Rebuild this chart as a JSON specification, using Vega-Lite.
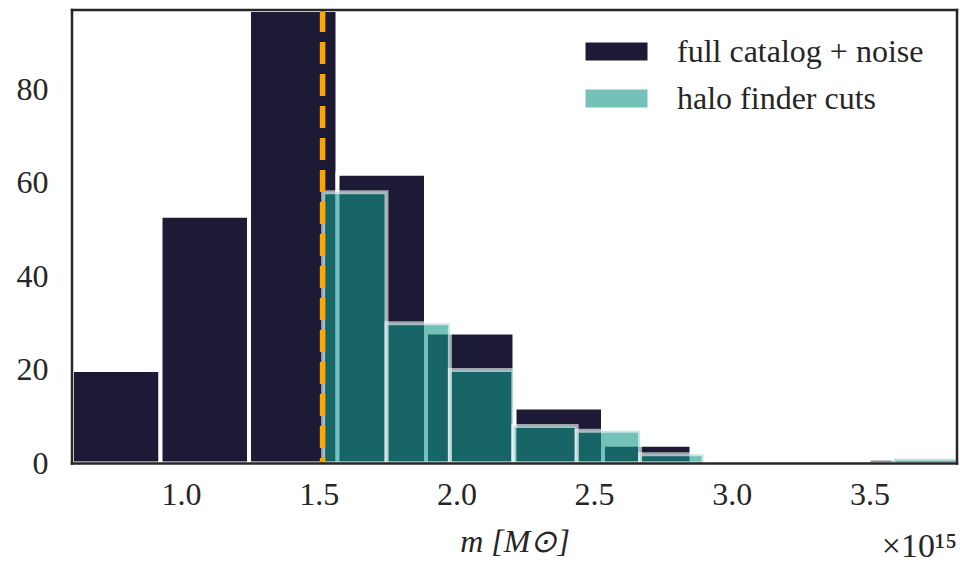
{
  "$schema": "https://vega.github.io/schema/vega-lite/v6.json",
  "width": 885,
  "height": 453.5,
  "autosize": {"type": "none"},
  "padding": {"left": 72, "top": 10, "right": 3, "bottom": 102.5},
  "background": "white",
  "title": {
    "text": "×10¹⁵",
    "orient": "bottom",
    "anchor": "end",
    "frame": "group",
    "offset": -27,
    "font": "Liberation Serif",
    "fontSize": 34,
    "fontWeight": "normal",
    "color": "#262626"
  },
  "config": {
    "view": {"stroke": null},
    "font": "Liberation Serif",
    "axis": {
      "labelFont": "Liberation Serif",
      "labelFontSize": 32,
      "labelColor": "#262626",
      "titleFont": "Liberation Serif",
      "titleFontSize": 32,
      "titleColor": "#262626",
      "titleFontWeight": "normal",
      "ticks": false,
      "domain": false,
      "grid": false
    },
    "legend": {
      "orient": "none",
      "legendX": 528.5,
      "legendY": 25.5,
      "title": null,
      "padding": 0,
      "symbolType": "M-2,-0.58H2V0.58H-2Z",
      "symbolSize": 961,
      "labelOffset": 44.5,
      "rowPadding": 15,
      "labelFont": "Liberation Serif",
      "labelFontSize": 32,
      "labelColor": "#262626",
      "labelLimit": 400,
      "symbolStrokeWidth": 0
    }
  },
  "datasets": {
    "bins": [
      {"series": "full catalog + noise", "bin_start": 0.604, "bin_end": 0.9254, "count": 20},
      {"series": "full catalog + noise", "bin_start": 0.9254, "bin_end": 1.2468, "count": 53},
      {"series": "full catalog + noise", "bin_start": 1.2468, "bin_end": 1.5682, "count": 97},
      {"series": "full catalog + noise", "bin_start": 1.5682, "bin_end": 1.8896, "count": 62},
      {"series": "full catalog + noise", "bin_start": 1.8896, "bin_end": 2.211, "count": 28},
      {"series": "full catalog + noise", "bin_start": 2.211, "bin_end": 2.5324, "count": 12},
      {"series": "full catalog + noise", "bin_start": 2.5324, "bin_end": 2.8538, "count": 4},
      {"series": "full catalog + noise", "bin_start": 3.4966, "bin_end": 3.818, "count": 1},
      {"series": "halo finder cuts", "bin_start": 1.516, "bin_end": 1.7462, "count": 58},
      {"series": "halo finder cuts", "bin_start": 1.7462, "bin_end": 1.9764, "count": 30},
      {"series": "halo finder cuts", "bin_start": 1.9764, "bin_end": 2.2066, "count": 20},
      {"series": "halo finder cuts", "bin_start": 2.2066, "bin_end": 2.4368, "count": 8},
      {"series": "halo finder cuts", "bin_start": 2.4368, "bin_end": 2.667, "count": 7},
      {"series": "halo finder cuts", "bin_start": 2.667, "bin_end": 2.8972, "count": 2},
      {"series": "halo finder cuts", "bin_start": 3.5878, "bin_end": 3.818, "count": 1}
    ],
    "cut": [{"m": 1.514}],
    "frame_x": [{"m": 0.604}, {"m": 3.818}],
    "frame_y": [{"c": 0}, {"c": 97}]
  },
  "layer": [
    {
      "data": {"name": "bins"},
      "mark": {"type": "bar"},
      "encoding": {
        "x": {
          "field": "bin_start",
          "type": "quantitative",
          "scale": {"domain": [0.604, 3.818], "nice": false, "zero": false},
          "axis": {
            "title": "m [M⊙]",
            "titleFontStyle": "italic",
            "values": [1.0, 1.5, 2.0, 2.5, 3.0, 3.5],
            "format": ".1f",
            "labelPadding": 15.5,
            "titlePadding": 16
          }
        },
        "x2": {"field": "bin_end"},
        "y": {
          "field": "count",
          "type": "quantitative",
          "scale": {"domain": [0, 97], "nice": false},
          "axis": {"title": null, "values": [0, 20, 40, 60, 80], "labelPadding": 24}
        },
        "y2": {"datum": 0},
        "color": {
          "field": "series",
          "type": "nominal",
          "scale": {"domain": ["full catalog + noise", "halo finder cuts"], "range": ["#1d1a36", "#73c1b9"]}
        },
        "fillOpacity": {"value": 0},
        "strokeOpacity": {"value": 0}
      }
    },
    {
      "data": {"name": "bins"},
      "mark": {"type": "bar", "stroke": "white", "strokeWidth": 4},
      "encoding": {
        "x": {"field": "bin_start", "type": "quantitative"},
        "x2": {"field": "bin_end"},
        "y": {"field": "count", "type": "quantitative"},
        "y2": {"datum": 0},
        "fill": {
          "condition": {"test": "datum.series === 'halo finder cuts'", "value": "#16988a"},
          "value": "#1d1a36"
        },
        "fillOpacity": {
          "condition": {"test": "datum.series === 'halo finder cuts'", "value": 0.6},
          "value": 1
        },
        "strokeOpacity": {
          "condition": {"test": "datum.series === 'halo finder cuts'", "value": 0.6},
          "value": 1
        }
      }
    },
    {
      "data": {"name": "cut"},
      "mark": {"type": "rule", "color": "#ffa500", "strokeWidth": 5.5, "strokeDash": [22, 10]},
      "encoding": {"x": {"field": "m", "type": "quantitative"}}
    },
    {
      "data": {"name": "frame_x"},
      "mark": {"type": "rule", "color": "#262626", "strokeWidth": 2.5, "strokeCap": "square"},
      "encoding": {"x": {"field": "m", "type": "quantitative"}}
    },
    {
      "data": {"name": "frame_y"},
      "mark": {"type": "rule", "color": "#262626", "strokeWidth": 2.5, "strokeCap": "square"},
      "encoding": {"y": {"field": "c", "type": "quantitative"}}
    }
  ]
}
